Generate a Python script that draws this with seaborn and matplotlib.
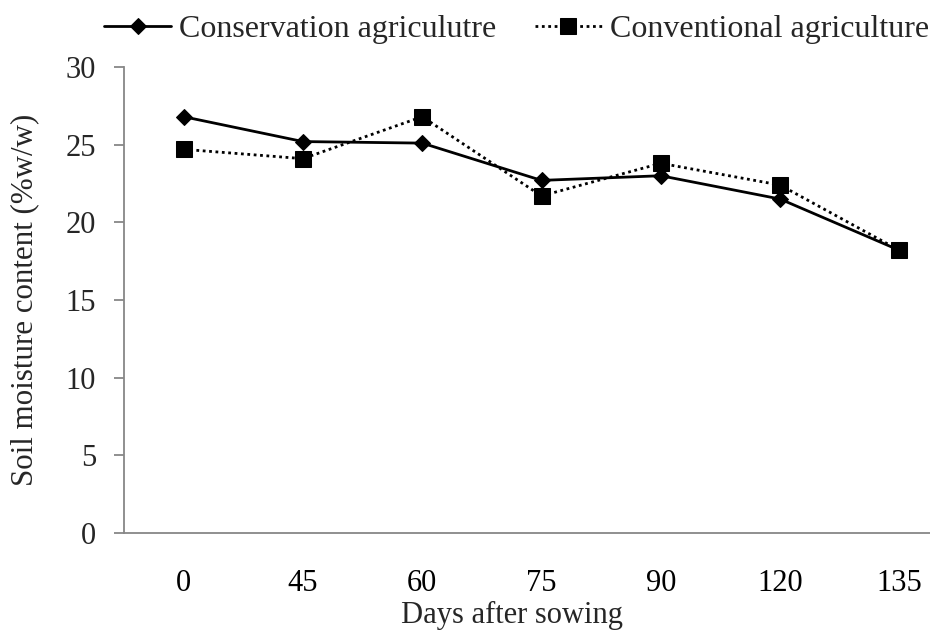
import matplotlib
matplotlib.use("Agg")
import matplotlib.pyplot as plt
import seaborn as sns
import pandas as pd
from matplotlib.ticker import FixedLocator

days = ["0", "45", "60", "75", "90", "120", "135"]
conservation = [26.8, 25.2, 25.1, 22.7, 23.0, 21.5, 18.2]
conventional = [24.7, 24.1, 26.8, 21.7, 23.8, 22.4, 18.2]
series_names = ["Conservation agriculutre", "Conventional agriculture"]

df = pd.DataFrame({
    "Days": days * 2,
    "Moisture": conservation + conventional,
    "Series": [series_names[0]] * len(days) + [series_names[1]] * len(days),
})

sns.set_theme(style="white")
plt.rcParams["font.family"] = ["Liberation Serif", "DejaVu Serif"]

fig = plt.figure(figsize=(9.3, 6.33), dpi=100)
ax = fig.add_axes([124 / 930, (633 - 533) / 633, (959 - 124) / 930, (533 - 67) / 633])

sns.lineplot(
    data=df, x="Days", y="Moisture", hue="Series", style="Series",
    palette={series_names[0]: "black", series_names[1]: "black"},
    markers={series_names[0]: "D", series_names[1]: "s"},
    dashes={series_names[0]: "", series_names[1]: (1, 1.3)},
    markersize=11, linewidth=2.0, markeredgecolor="black",
    ax=ax, sort=False,
)
for line in ax.get_lines():
    if line.get_marker() == "D":
        line.set_markersize(8)
    elif line.get_marker() == "s":
        line.set_markersize(11)

ax.set_xlim(-0.5, 6.5)
ax.set_ylim(0, 30)
ax.set_yticks([0, 5, 10, 15, 20, 25, 30])
ax.set_xticks(range(len(days)))
ax.set_xticklabels(days)
ax.xaxis.set_minor_locator(FixedLocator([i - 0.5 for i in range(len(days) + 1)]))

spine_color = "#878787"
for s in ["top", "right"]:
    ax.spines[s].set_visible(False)
for s in ["left", "bottom"]:
    ax.spines[s].set_color(spine_color)
    ax.spines[s].set_linewidth(1.3)

ax.tick_params(axis="x", which="major", length=0, labelsize=22, pad=26, colors="black")
ax.tick_params(axis="x", which="minor", length=8, width=1.3, color=spine_color, direction="out")
ax.tick_params(axis="y", which="major", length=7, width=1.3, color=spine_color,
               direction="out", labelsize=22, pad=13, left=True)
ax.grid(False)

ax.set_xlabel("Days after sowing", fontsize=22, labelpad=0)
ax.xaxis.set_label_coords((512 - 124) / 835, -0.145)
ax.set_ylabel("Soil moisture content (%w/w)", fontsize=22.3, labelpad=19)

handles, labels = ax.get_legend_handles_labels()
ax.legend_.remove()
for h in handles:
    if h.get_marker() == "D":
        h.set_markersize(8)
    else:
        h.set_markersize(11)
fig.legend(handles, labels, loc="upper right", bbox_to_anchor=(1.03, 1.022), ncol=2,
           frameon=False, fontsize=23, handlelength=2.1, handletextpad=0.25,
           columnspacing=1.2, markerscale=1.0)

fig.savefig("out.png", dpi=100)
